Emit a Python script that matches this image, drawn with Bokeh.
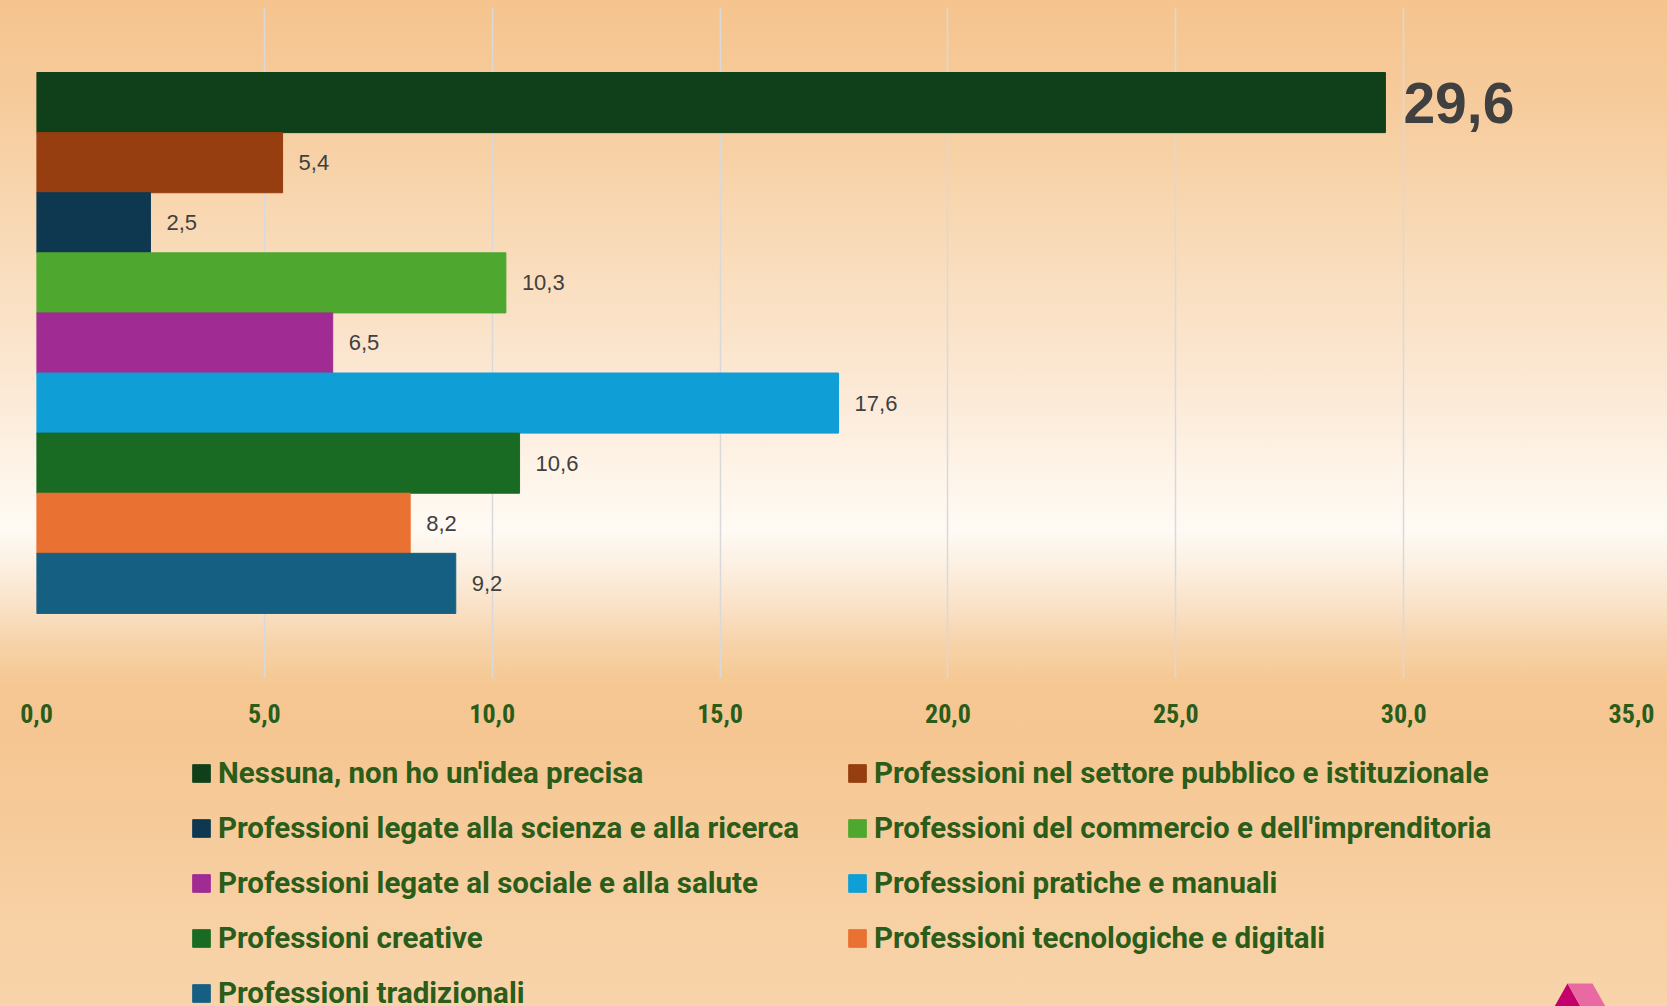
from bokeh.plotting import figure
from bokeh.layouts import column
from bokeh.models import (ColumnDataSource, Range1d, FixedTicker, Legend, LegendItem,
                          GlobalInlineStyleSheet)
from bokeh.core.properties import value
from bokeh.embed import file_html
from bokeh.resources import INLINE

# ---------------- data ----------------
categories = [
    "Nessuna, non ho un'idea precisa",
    "Professioni nel settore pubblico e istituzionale",
    "Professioni legate alla scienza e alla ricerca",
    "Professioni del commercio e dell'imprenditoria",
    "Professioni legate al sociale e alla salute",
    "Professioni pratiche e manuali",
    "Professioni creative",
    "Professioni tecnologiche e digitali",
    "Professioni tradizionali",
]
values = [29.6, 5.4, 2.5, 10.3, 6.5, 17.6, 10.6, 8.2, 9.2]
colors = ["#10401A", "#963E10", "#0E3850", "#4EA72E", "#A02B93",
          "#0F9ED5", "#196B24", "#E97132", "#156082"]
x_ticks = [0, 5, 10, 15, 20, 25, 30, 35]
x_tick_labels = ["0,0", "5,0", "10,0", "15,0", "20,0", "25,0", "30,0", "35,0"]

# ---------------- styling ----------------
GREEN_TXT = "#2A5C1A"
COND_FONT = "Roboto Condensed"
LEG_FONT = "Roboto"
W, H_TOP, H_BOT = 1667, 740, 266
FRAME_L, FRAME_R = 36, 36
grad_stops = [(0, "#F5C48E"), (100, "#F6CB9B"), (200, "#F8D6AF"), (300, "#FAE0C3"),
              (400, "#FCEAD8"), (480, "#FEF5EA"), (530, "#FEFAF4"), (565, "#FCF0E2"),
              (605, "#FAE2C8"), (645, "#F7D2A8"), (685, "#F5C792"), (740, "#F5C691"),
              (880, "#F7CEA0"), (1006, "#F8D4AA")]
# small decorative logo (bottom-right corner), in legend-strip pixel coordinates
LOGO_XS = [[2554, 2567, 2580], [2567, 2592, 2605, 2580]]
LOGO_YS = [[100, 123, 100], [123, 123, 100, 100]]
LOGO_COLORS = ["#C4006B", "#E96AA2"]


def gradient(offset):
    return "linear-gradient(to bottom, " + ", ".join(
        f"{c} {pos - offset}px" for pos, c in grad_stops) + ")"


ys = list(range(len(categories)))
labels = [f"{v:.1f}".replace(".", ",") for v in values]
src = ColumnDataSource(dict(y=ys, v=values, color=colors, cat=categories, lbl=labels))

imax = values.index(max(values))
small_idx = [i for i in ys if i != imax]
src_small = ColumnDataSource(dict(y=[ys[i] for i in small_idx], v=[values[i] for i in small_idx],
                                  lbl=[labels[i] for i in small_idx]))
src_big = ColumnDataSource(dict(y=[ys[imax]], v=[values[imax]], lbl=[labels[imax]]))

# ---------------- chart ----------------
p = figure(width=W, height=H_TOP, output_backend="svg", toolbar_location=None,
           x_range=Range1d(0, 35), y_range=Range1d(9.583, -1.582),
           y_axis_location=None,
           min_border_left=FRAME_L, min_border_right=FRAME_R, min_border_top=7,
           min_border_bottom=62)
p.background_fill_alpha = 0
p.border_fill_alpha = 0
p.outline_line_color = None
p.styles = {"background": gradient(0)}
p.stylesheets = [GlobalInlineStyleSheet(
    css="html, body {margin:0; padding:0; overflow:hidden; background:" + gradient(0) + ";}")]

bars = p.hbar(y="y", left=0, right="v", height=1.0, color="color", source=src)

p.text(x="v", y="y", text="lbl", source=src_small, x_offset=16,
       text_align="left", text_baseline="middle",
       text_font=value("Liberation Sans"), text_font_size="22px", text_color="#404040")
p.text(x="v", y="y", text="lbl", source=src_big, x_offset=18,
       text_align="left", text_baseline="middle",
       text_font=value("Liberation Sans"), text_font_style="bold",
       text_font_size="57px", text_color="#404040")

ax = p.xaxis[0]
ax.ticker = FixedTicker(ticks=x_ticks)
ax.major_label_overrides = {t: l for t, l in zip(x_ticks, x_tick_labels)}
ax.axis_line_color = None
ax.major_tick_line_color = None
ax.minor_tick_line_color = None
ax.major_tick_out = 0
ax.major_tick_in = 0
ax.major_label_standoff = 25
ax.major_label_text_font = COND_FONT
ax.major_label_text_font_style = "bold"
ax.major_label_text_font_size = "26px"
ax.major_label_text_color = GREEN_TXT

p.xgrid.ticker = FixedTicker(ticks=x_ticks)
p.xgrid.grid_line_color = "#D9D9D9"
p.xgrid.grid_line_width = 1.5
p.ygrid.visible = False

# ---------------- legend strip ----------------
# (the column layout aligns this frame with the chart frame: left 36, right 36)
p2 = figure(width=W, height=H_BOT, output_backend="svg", toolbar_location=None,
            x_range=Range1d(1000 + FRAME_L, 1000 + W - FRAME_R),
            y_range=Range1d(100, 100 + H_BOT),
            x_axis_location=None, y_axis_location=None,
            min_border_left=FRAME_L, min_border_right=FRAME_R,
            min_border_top=0, min_border_bottom=0)
p2.background_fill_alpha = 0
p2.border_fill_alpha = 0
p2.outline_line_color = None
p2.styles = {"background": gradient(H_TOP)}
p2.xgrid.visible = False
p2.ygrid.visible = False
leg_bars = p2.hbar(y="y", left=0, right="v", height=1.0, color="color", source=src)
p2.patches(xs=LOGO_XS, ys=LOGO_YS, fill_color=LOGO_COLORS, line_color=None)

LH, SP = 35, 20


def make_legend(idx, x, top):
    n = len(idx)
    height = n * LH + (n - 1) * SP
    lg = Legend(items=[LegendItem(label=categories[i], renderers=[leg_bars], index=i) for i in idx],
                location=(x - FRAME_L, H_BOT - top - height))
    lg.label_text_font = LEG_FONT
    lg.label_text_font_style = "bold"
    lg.label_text_font_size = "29.5px"
    lg.label_text_color = GREEN_TXT
    lg.glyph_width = 22
    lg.glyph_height = 22
    lg.label_height = LH
    lg.label_standoff = 6
    lg.spacing = SP
    lg.padding = 0
    lg.margin = 0
    lg.border_line_color = None
    lg.background_fill_alpha = 0
    return lg


p2.add_layout(make_legend([0, 2, 4, 6, 8], 190, 15))
p2.add_layout(make_legend([1, 3, 5, 7], 846, 15))

layout = column(p, p2, spacing=0)
open("out.html", "w").write(file_html(layout, INLINE))
